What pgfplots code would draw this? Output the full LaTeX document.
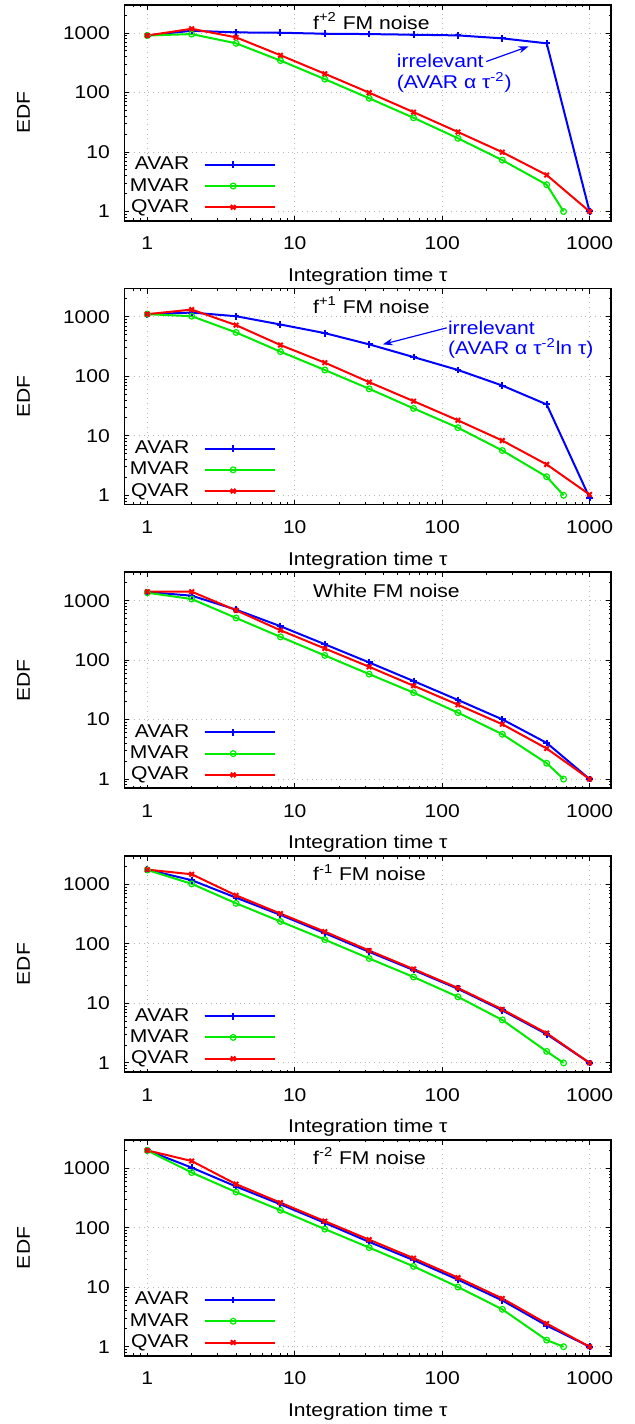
\documentclass[border=0pt]{standalone}
\usepackage{fontspec}
\setmainfont{Liberation Sans}[FakeStretch=1.14]
\usepackage{pgfplots}
\pgfplotsset{compat=1.18}
\usetikzlibrary{arrows.meta}

\definecolor{gpblue}{RGB}{0,0,255}
\definecolor{gpgreen}{RGB}{0,235,0}
\definecolor{gpred}{RGB}{255,0,0}

% legend sample: a 28.5pt line with the mark in the middle, white box runs a bit further
\pgfplotsset{
  legend image code/.code={
    \draw[mark repeat=2,mark phase=2,#1] plot coordinates {(0pt,0pt) (14.25pt,0pt) (28.5pt,0pt)};
    \path (0pt,0pt) -- (35pt,0pt);
  },
}

% common look of the five panels
\pgfplotsset{every axis/.append style={
    xmode=log, ymode=log,
    scale only axis, width=243.3pt, height=108pt,
    anchor=north west,
    xmin=0.7, xmax=1400, ymin=0.7, ymax=3000,
    xtick={1,10,100,1000}, xticklabels={1,10,100,1000},
    ytick={1,10,100,1000}, yticklabels={1,10,100,1000},
    minor xtick={0.7,0.8,0.9,2,3,4,5,6,7,8,9,20,30,40,50,60,70,80,90,200,300,400,500,600,700,800,900},
    minor ytick={0.7,0.8,0.9,2,3,4,5,6,7,8,9,20,30,40,50,60,70,80,90,200,300,400,500,600,700,800,900,2000,3000},
    major tick length=2.5pt, minor tick length=1.25pt,
    tick style={black, line width=0.5pt},
    axis line style={line width=0.9pt},
    grid=major, major grid style={gray!55, dotted, line width=0.5pt},
    xticklabel style={anchor=base, yshift=-14.5pt},
    yticklabel style={xshift=-4pt},
    xlabel={Integration time τ}, ylabel={EDF},
    legend plot pos=right, legend cell align=right,
    legend style={at={(0,0)}, anchor=south west, xshift=2pt, yshift=1.5pt,
      fill=white, draw=none, inner sep=0pt, row sep=0.65pt, column sep=6.7pt,
      nodes={inner sep=0.5pt, text height=7pt, text depth=2pt}},
  },
  every axis x label/.style={at={(0.5,0)}, anchor=base, yshift=-30.25pt},
  every axis y label/.style={at={(-0.2076,0.5)}, rotate=90, anchor=center},
  every axis title/.style={at={(0.3744,1)}, anchor=base west, yshift=-12.35pt},
  avar/.style={gpblue, line width=1pt, mark=+, mark size=1.7pt},
  mvar/.style={gpgreen, line width=1pt, mark=o, mark size=1.45pt, mark options={line width=0.6pt}},
  qvar/.style={gpred, line width=1pt, mark=x, mark size=1.6pt},
}

\begin{document}
\fontsize{9.25pt}{11pt}\selectfont
\begin{tikzpicture}
\useasboundingbox (0,0) rectangle (317pt,-712pt);

% f^+2 FM noise
\begin{axis}[at={(62.25pt,-2.35pt)}, title={f\textsuperscript{+2} FM noise}]
\addplot[avar] coordinates {(1,910) (2,1094) (4,1026) (8,1013) (16,975) (32,962) (64,938) (128,914) (256,815) (512,672) (1000,1)};
\addlegendentry{AVAR}
\addplot[mvar] coordinates {(1,910) (2,962) (4,672) (8,345) (16,168) (32,80) (64,37.6) (128,17) (256,7.3) (512,2.82) (666.7,1)};
\addlegendentry{MVAR}
\addplot[qvar] coordinates {(1,910) (2,1181) (4,847) (8,424) (16,207) (32,99.5) (64,46.8) (128,21.7) (256,9.93) (512,4.1) (1000,1)};
\addlegendentry{QVAR}
\node[gpblue, anchor=base west, inner sep=0pt] at (axis cs:49,267) {irrelevant};
\node[gpblue, anchor=base west, inner sep=0pt] at (axis cs:49,116) {(AVAR α τ\textsuperscript{-2})};
\draw[gpblue, line width=0.6pt, -{Stealth[length=5pt,width=3.5pt]}] (axis cs:199,332) -- (axis cs:386,597);
\end{axis}

% f^+1 FM noise
\begin{axis}[at={(62.25pt,-144.25pt)}, title={f\textsuperscript{+1} FM noise}]
\addplot[avar] coordinates {(1,1110) (2,1182) (4,1026) (8,744) (16,533) (32,345) (64,211) (128,128) (256,70) (512,33.7) (1000,0.91)};
\addlegendentry{AVAR}
\addplot[mvar] coordinates {(1,1110) (2,1026) (4,547) (8,260) (16,128) (32,61.7) (64,28.9) (128,13.7) (256,5.66) (512,2.05) (666.7,1)};
\addlegendentry{MVAR}
\addplot[qvar] coordinates {(1,1110) (2,1327) (4,726) (8,336) (16,170) (32,79.8) (64,38.3) (128,18.2) (256,8.32) (512,3.3) (1000,1.03)};
\addlegendentry{QVAR}
\node[gpblue, anchor=base west, inner sep=0pt] at (axis cs:109,508) {irrelevant};
\node[gpblue, anchor=base west, inner sep=0pt] at (axis cs:109,229) {(AVAR α τ\textsuperscript{-2}ln τ)};
\draw[gpblue, line width=0.6pt, -{Stealth[length=5pt,width=3.5pt]}] (axis cs:107.5,654) -- (axis cs:39.6,345);
\end{axis}

% White FM noise
\begin{axis}[at={(62.25pt,-286.15pt)}, title={White FM noise}]
\addplot[avar] coordinates {(1,1397) (2,1213) (4,706) (8,372) (16,185) (32,91.4) (64,44.5) (128,21.4) (256,10.1) (512,4.06) (1000,1)};
\addlegendentry{AVAR}
\addplot[mvar] coordinates {(1,1361) (2,1066) (4,512) (8,246) (16,120) (32,58.2) (64,28.4) (128,13.1) (256,5.68) (512,1.85) (666.7,1)};
\addlegendentry{MVAR}
\addplot[qvar] coordinates {(1,1415) (2,1415) (4,689) (8,318) (16,157) (32,77.3) (64,37.1) (128,17.8) (256,8.36) (512,3.27) (1000,1)};
\addlegendentry{QVAR}
\end{axis}

% f^-1 FM noise
\begin{axis}[at={(62.25pt,-428.05pt)}, title={f\textsuperscript{-1} FM noise}]
\addplot[avar] coordinates {(1,1778) (2,1181) (4,600) (8,308) (16,152) (32,73.6) (64,36.4) (128,17.6) (256,7.64) (512,3.04) (1000,1)};
\addlegendentry{AVAR}
\addplot[mvar] coordinates {(1,1754) (2,1026) (4,482) (8,239) (16,118) (32,57) (64,27.8) (128,12.9) (256,5.27) (512,1.56) (666.7,1)};
\addlegendentry{MVAR}
\addplot[qvar] coordinates {(1,1778) (2,1486) (4,656) (8,324) (16,161) (32,77.4) (64,37.8) (128,18.2) (256,7.94) (512,3.16) (1000,1)};
\addlegendentry{QVAR}
\end{axis}

% f^-2 FM noise
\begin{axis}[at={(62.25pt,-569.95pt)}, title={f\textsuperscript{-2} FM noise}]
\addplot[avar] coordinates {(1,2000) (2,1026) (4,494) (8,248) (16,121) (32,57.7) (64,28.6) (128,13.4) (256,6.0) (512,2.27) (1000,1)};
\addlegendentry{AVAR}
\addplot[mvar] coordinates {(1,1995) (2,847) (4,398) (8,197) (16,95) (32,46.4) (64,22.4) (128,10.1) (256,4.25) (512,1.29) (666.7,1)};
\addlegendentry{MVAR}
\addplot[qvar] coordinates {(1,2000) (2,1325) (4,541) (8,264) (16,129) (32,63) (64,30.8) (128,14.5) (256,6.47) (512,2.45) (1000,1)};
\addlegendentry{QVAR}
\end{axis}
\end{tikzpicture}
\end{document}
